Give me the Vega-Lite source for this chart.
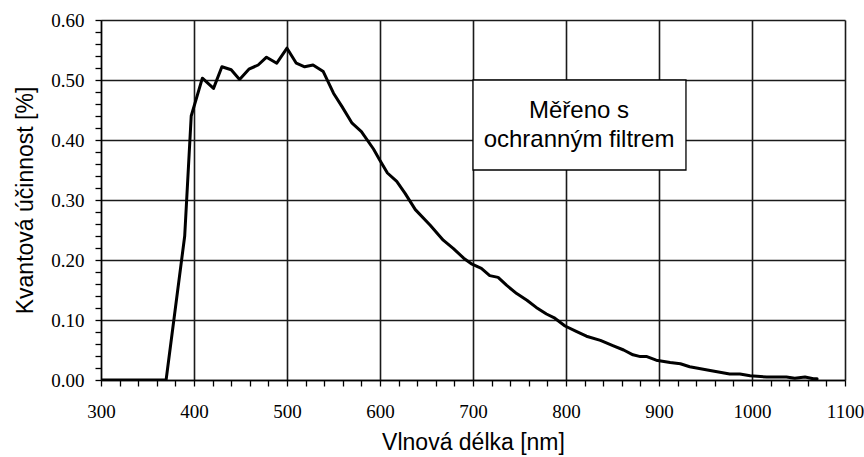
{
  "$schema": "https://vega.github.io/schema/vega-lite/v6.json",
  "width": 744,
  "height": 360,
  "autosize": {"type": "none"},
  "padding": {"left": 101, "top": 20, "right": 19, "bottom": 77},
  "background": "white",
  "config": {
    "view": {"stroke": null},
    "axis": {
      "domainColor": "#000",
      "domainWidth": 1.3,
      "tickColor": "#000",
      "tickWidth": 1.3,
      "gridColor": "#1a1a1a",
      "gridWidth": 1.6,
      "labelFont": "Liberation Serif",
      "labelFontSize": 19,
      "labelColor": "#000",
      "titleFont": "Liberation Sans",
      "titleFontSize": 23,
      "titleFontWeight": "normal",
      "titleColor": "#000"
    }
  },
  "encoding": {
    "x": {
      "field": "nm", "type": "quantitative",
      "scale": {"domain": [300, 1100], "nice": false, "zero": false},
      "axis": {
        "title": "Vlnová délka [nm]",
        "values": [300,320,340,360,380,400,420,440,460,480,500,520,540,560,580,600,620,640,660,680,700,720,740,760,780,800,820,840,860,880,900,920,940,960,980,1000,1020,1040,1060,1080,1100],
        "labelExpr": "datum.value % 100 === 0 ? datum.label : ''",
        "format": "d",
        "grid": true,
        "gridOpacity": {"condition": {"test": "datum.value % 100 !== 0", "value": 0}, "value": 1},
        "tickSize": 6,
        "labelPadding": 16,
        "labelFlush": false,
        "labelOverlap": false,
        "titlePadding": 10
      }
    },
    "y": {
      "field": "qe", "type": "quantitative",
      "scale": {"domain": [0, 0.6], "nice": false},
      "axis": {
        "title": "Kvantová účinnost [%]",
        "values": [0,0.02,0.04,0.06,0.08,0.1,0.12,0.14,0.16,0.18,0.2,0.22,0.24,0.26,0.28,0.3,0.32,0.34,0.36,0.38,0.4,0.42,0.44,0.46,0.48,0.5,0.52,0.54,0.56,0.58,0.6],
        "format": ".2f",
        "labelExpr": "round(datum.value * 100) % 10 === 0 ? datum.label : ''",
        "grid": true,
        "gridOpacity": {"condition": {"test": "round(datum.value * 100) % 10 !== 0", "value": 0}, "value": 1},
        "tickSize": 6,
        "labelPadding": 11,
        "labelFlush": false,
        "labelOverlap": false,
        "titlePadding": 13
      }
    }
  },
  "layer": [
    {
      "data": {"values": [
        {"nm": 300, "qe": 0}, {"nm": 370, "qe": 0}, {"nm": 390, "qe": 0.24}, {"nm": 397, "qe": 0.44},
        {"nm": 409, "qe": 0.503}, {"nm": 421, "qe": 0.486}, {"nm": 430, "qe": 0.522}, {"nm": 440, "qe": 0.517},
        {"nm": 449, "qe": 0.501}, {"nm": 459, "qe": 0.518}, {"nm": 469, "qe": 0.525}, {"nm": 478, "qe": 0.538},
        {"nm": 489, "qe": 0.528}, {"nm": 500, "qe": 0.553}, {"nm": 510, "qe": 0.528}, {"nm": 519, "qe": 0.522},
        {"nm": 528, "qe": 0.525}, {"nm": 539, "qe": 0.514}, {"nm": 550, "qe": 0.478}, {"nm": 559, "qe": 0.456},
        {"nm": 570, "qe": 0.428}, {"nm": 580, "qe": 0.414}, {"nm": 593, "qe": 0.385}, {"nm": 600, "qe": 0.366},
        {"nm": 608, "qe": 0.345}, {"nm": 618, "qe": 0.331}, {"nm": 627, "qe": 0.311}, {"nm": 638, "qe": 0.284},
        {"nm": 654, "qe": 0.258}, {"nm": 668, "qe": 0.233}, {"nm": 679, "qe": 0.219}, {"nm": 690, "qe": 0.203},
        {"nm": 699, "qe": 0.193}, {"nm": 709, "qe": 0.186}, {"nm": 718, "qe": 0.174}, {"nm": 727, "qe": 0.171},
        {"nm": 736, "qe": 0.158}, {"nm": 747, "qe": 0.144}, {"nm": 758, "qe": 0.133}, {"nm": 768, "qe": 0.121},
        {"nm": 779, "qe": 0.110}, {"nm": 788, "qe": 0.103}, {"nm": 799, "qe": 0.090}, {"nm": 811, "qe": 0.081},
        {"nm": 822, "qe": 0.073}, {"nm": 837, "qe": 0.066}, {"nm": 851, "qe": 0.057}, {"nm": 862, "qe": 0.050},
        {"nm": 872, "qe": 0.042}, {"nm": 880, "qe": 0.039}, {"nm": 887, "qe": 0.039}, {"nm": 897, "qe": 0.033},
        {"nm": 912, "qe": 0.029}, {"nm": 923, "qe": 0.027}, {"nm": 933, "qe": 0.022}, {"nm": 955, "qe": 0.016},
        {"nm": 976, "qe": 0.010}, {"nm": 987, "qe": 0.010}, {"nm": 998, "qe": 0.007}, {"nm": 1016, "qe": 0.005},
        {"nm": 1037, "qe": 0.005}, {"nm": 1046, "qe": 0.003}, {"nm": 1057, "qe": 0.005}, {"nm": 1066, "qe": 0.002},
        {"nm": 1070, "qe": 0.002}
      ]},
      "mark": {"type": "line", "color": "#000", "strokeWidth": 3, "strokeJoin": "round", "strokeCap": "round", "clip": true}
    },
    {
      "data": {"values": [{"nm": 700, "nm2": 929, "qe": 0.35, "qe2": 0.5}]},
      "mark": {"type": "rect", "fill": "white", "stroke": "#000", "strokeWidth": 1.3},
      "encoding": {
        "x2": {"field": "nm2"},
        "y2": {"field": "qe2"}
      }
    },
    {
      "data": {"values": [{"nm": 814, "qe": 0.448, "label": "Měřeno s\nochranným filtrem"}]},
      "mark": {"type": "text", "font": "Liberation Sans", "fontSize": 24, "color": "#000", "align": "center", "baseline": "middle", "lineBreak": "\n", "lineHeight": 29},
      "encoding": {
        "text": {"field": "label"}
      }
    }
  ]
}
